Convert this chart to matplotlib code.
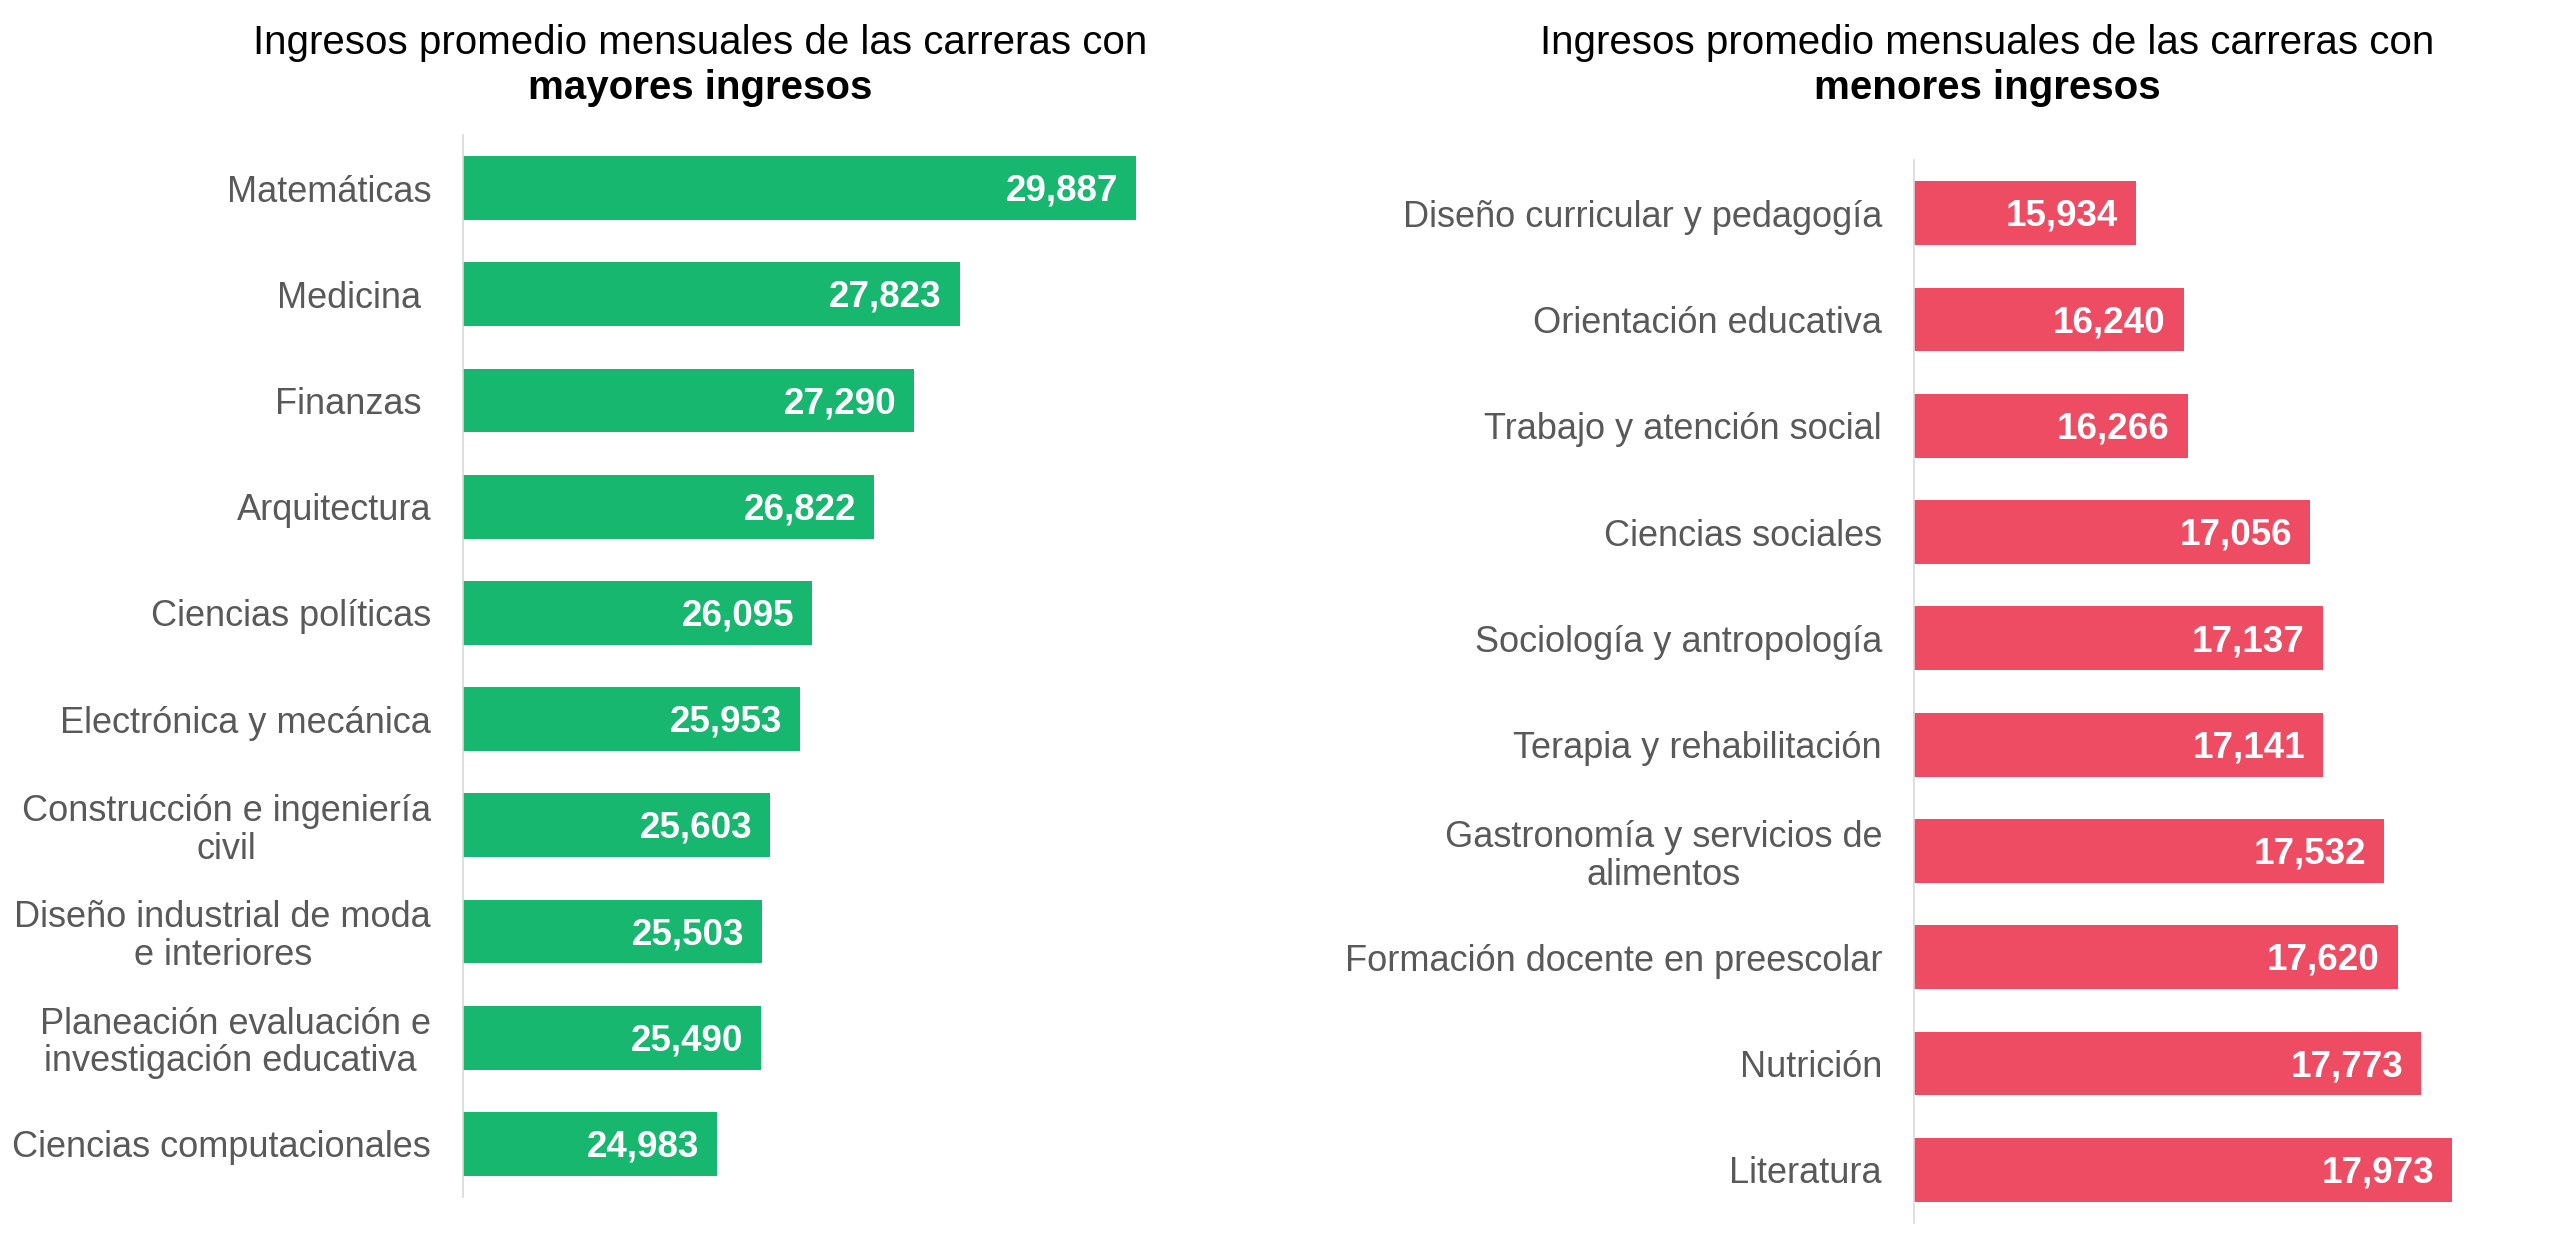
import matplotlib.pyplot as plt

plt.rcParams['font.family'] = ['Liberation Sans', 'DejaVu Sans']

# Datos: carreras con mayores ingresos
carreras_mayores = ['Matemáticas', 'Medicina ', 'Finanzas ', 'Arquitectura',
                    'Ciencias políticas', 'Electrónica y mecánica',
                    'Construcción e ingeniería\ncivil',
                    'Diseño industrial de moda\ne interiores',
                    'Planeación evaluación e\ninvestigación educativa ',
                    'Ciencias computacionales']
ingresos_mayores = [29887, 27823, 27290, 26822, 26095, 25953, 25603, 25503, 25490, 24983]

# Datos: carreras con menores ingresos
carreras_menores = ['Diseño curricular y pedagogía', 'Orientación educativa',
                    'Trabajo y atención social', 'Ciencias sociales',
                    'Sociología y antropología', 'Terapia y rehabilitación',
                    'Gastronomía y servicios de\nalimentos',
                    'Formación docente en preescolar', 'Nutrición', 'Literatura']
ingresos_menores = [15934, 16240, 16266, 17056, 17137, 17141, 17532, 17620, 17773, 17973]

W, H = 2560, 1248
fig = plt.figure(figsize=(W / 100, H / 100), dpi=100)


def panel(rect_px, carreras, valores, color, xlim, pad):
    # rect_px = (izquierda, arriba, derecha, abajo) en pixeles
    x0, top, x1, bottom = rect_px
    ax = fig.add_axes([x0 / W, 1 - bottom / H, (x1 - x0) / W, (bottom - top) / H])
    pos = range(len(valores))
    bars = ax.barh(pos, valores, height=0.6, color=color, left=0)
    ax.set_xlim(*xlim)
    ax.set_ylim(len(valores) - 0.5, -0.5)
    ax.set_yticks(list(pos))
    ax.set_yticklabels(carreras, fontsize=26, color='#595959', linespacing=1.1,
                       multialignment='center')
    ax.tick_params(axis='y', length=0, pad=23)
    ax.set_xticks([])

    # Solo se deja el eje izquierdo, muy tenue
    for s in ['top', 'right', 'bottom']:
        ax.spines[s].set_visible(False)
    ax.spines['left'].set_color('#d9d9d9')
    ax.spines['left'].set_linewidth(1.2)

    # Etiquetas de valor dentro de la barra
    for bar, v in zip(bars, valores):
        ax.text(v - pad, bar.get_y() + bar.get_height() / 2 + 0.03, f'{v:,}',
                ha='right', va='center', color='white', fontsize=26.5,
                fontweight='bold')
    return ax


panel((463, 135, 1250, 1197), carreras_mayores, ingresos_mayores, '#17B76F',
      (22000, 22000 + 787 / 0.0853), 18 / 0.0853)
panel((1914, 160, 2500, 1223), carreras_menores, ingresos_menores, '#EE4C63',
      (14500, 14500 + 586 / 0.155), 18 / 0.155)

# Titulos
for cx, palabra in [(700, 'mayores ingresos'), (1987, 'menores ingresos')]:
    fig.text(cx / W, 1 - 54 / H, 'Ingresos promedio mensuales de las carreras con',
             ha='center', va='baseline', fontsize=29, color='black')
    fig.text(cx / W, 1 - 99 / H, palabra, ha='center', va='baseline',
             fontsize=29, fontweight='bold', color='black')

plt.savefig('out.png', dpi=100)
plt.close()
